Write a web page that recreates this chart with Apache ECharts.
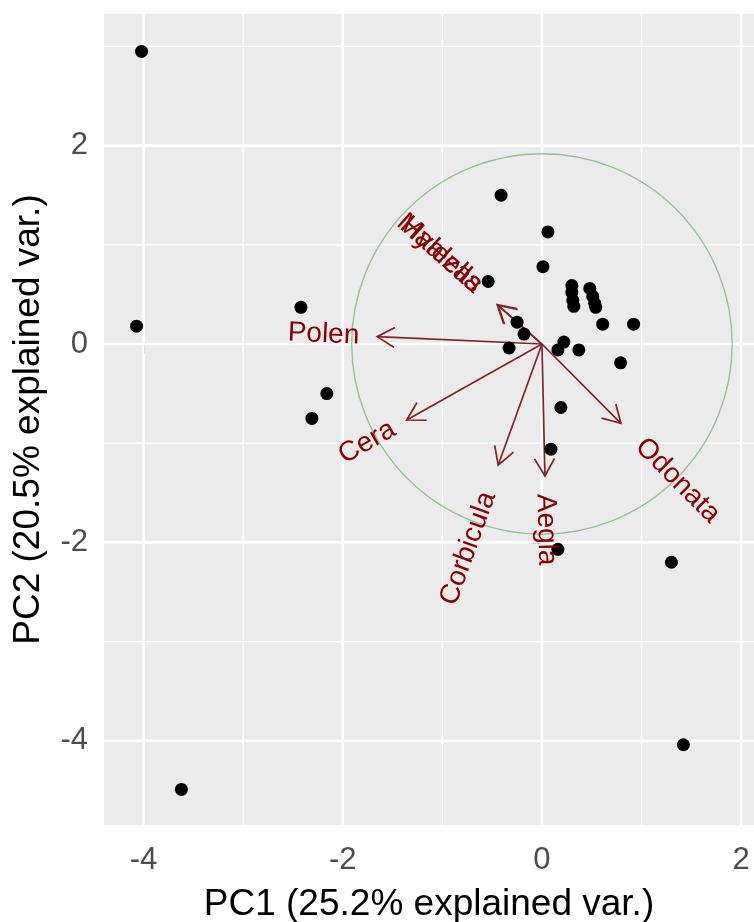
<!DOCTYPE html>
<html>
<head>
<meta charset="utf-8">
<script src="https://cdn.jsdelivr.net/npm/echarts@6/dist/echarts.min.js"></script>
<style>
  html, body { margin: 0; padding: 0; background: #ffffff; }
  #chart { width: 754px; height: 922px; }
</style>
</head>
<body>
<div id="chart"></div>
<script>
// Sample scores on the first two principal components
const pc1 = [-4.02, -4.07, -3.62, -2.42, -2.16, -2.31, -0.41, 0.06, 0.01, -0.54,
             -0.25, -0.18, -0.33, 0.16, 0.22, 0.37, 0.61, 0.92, 0.79,
             0.30, 0.30, 0.31, 0.32, 0.48, 0.51, 0.53, 0.54,
             0.19, 0.09, 0.16, 1.30, 1.42];
const pc2 = [2.95, 0.18, -4.49, 0.37, -0.50, -0.75, 1.50, 1.13, 0.78, 0.63,
             0.22, 0.10, -0.04, -0.06, 0.02, -0.06, 0.20, 0.20, -0.19,
             0.59, 0.52, 0.44, 0.38, 0.56, 0.48, 0.41, 0.37,
             -0.64, -1.06, -2.07, -2.20, -4.04];

// Variable loadings (arrow tips)
const varNames = ['Polen', 'Cera', 'Corbicula', 'Aegla', 'Odonata', 'Malezas', 'Hyalella'];
const varPC1 = [-1.654, -1.358, -0.439, 0.030, 0.793, -0.440, -0.450];
const varPC2 = [0.074, -0.766, -1.220, -1.330, -0.800, 0.390, 0.398];

// Axis ticks and grid
const xTicks = [-4, -2, 0, 2];
const yTicks = [-4, -2, 0, 2];
const xMinor = [-3, -1, 1];
const yMinor = [-3, -1, 1, 3];
const xRange = [-4.397, 2.129];
const yRange = [-4.849, 3.327];
const circleRadius = 1.91;

const xTitle = 'PC1 (25.2% explained var.)';
const yTitle = 'PC2 (20.5% explained var.)';

const FONT = '"Liberation Sans", Arial, sans-serif';
const LABEL_SIZE = 28;
const arrowColor = '#832424';
const labelColor = '#8B0000';

const measureCtx = document.createElement('canvas').getContext('2d');
function textWidth(s) {
  measureCtx.font = LABEL_SIZE + 'px ' + FONT;
  return measureCtx.measureText(s).width;
}

const gridLines = [];
xTicks.forEach(v => gridLines.push([v, 0, 1]));
xMinor.forEach(v => gridLines.push([v, 0, 0]));
yTicks.forEach(v => gridLines.push([v, 1, 1]));
yMinor.forEach(v => gridLines.push([v, 1, 0]));

const chart = echarts.init(document.getElementById('chart'), null, { renderer: 'canvas' });

const option = {
  backgroundColor: '#ffffff',
  animation: false,
  grid: {
    left: 104, top: 14, right: 0, bottom: 97,
    containLabel: false, outerBoundsMode: 'none',
    show: true, backgroundColor: '#EBEBEB', borderWidth: 0
  },
  xAxis: {
    type: 'value', min: xRange[0], max: xRange[1],
    axisLine: { show: false },
    splitLine: { show: false },
    axisTick: { show: true, customValues: xTicks, length: 10, lineStyle: { color: '#333333', width: 2 } },
    axisLabel: { customValues: xTicks, fontSize: 31, color: '#4D4D4D', fontFamily: FONT, margin: 20 },
    name: xTitle, nameLocation: 'middle', nameGap: 61,
    nameTextStyle: { fontSize: 37, color: '#000000', fontFamily: FONT }
  },
  yAxis: {
    type: 'value', min: yRange[0], max: yRange[1],
    axisLine: { show: false },
    splitLine: { show: false },
    axisTick: { show: true, customValues: yTicks, length: 10, lineStyle: { color: '#333333', width: 2 } },
    axisLabel: { customValues: yTicks, fontSize: 31, color: '#4D4D4D', fontFamily: FONT, margin: 16 },
    name: yTitle, nameLocation: 'middle', nameGap: 57,
    nameTextStyle: { fontSize: 37, color: '#000000', fontFamily: FONT }
  },
  series: [
    {
      // panel grid lines
      type: 'custom', z: 1, silent: true,
      data: gridLines,
      renderItem: function (params, api) {
        const cs = params.coordSys;
        const v = api.value(0), horiz = api.value(1) === 1, major = api.value(2) === 1;
        const lw = major ? 2.6 : 1.3;
        let shape;
        if (horiz) {
          const y = api.coord([0, v])[1];
          shape = { x1: cs.x, y1: y, x2: cs.x + cs.width, y2: y };
        } else {
          const x = api.coord([v, 0])[0];
          shape = { x1: x, y1: cs.y, x2: x, y2: cs.y + cs.height };
        }
        return { type: 'line', shape: shape, style: { stroke: '#ffffff', lineWidth: lw } };
      }
    },
    {
      // correlation circle
      type: 'custom', z: 2, silent: true,
      data: [[0, 0, circleRadius]],
      renderItem: function (params, api) {
        const c = api.coord([api.value(0), api.value(1)]);
        const r = api.size([api.value(2), 0])[0];
        return { type: 'circle', shape: { cx: c[0], cy: c[1], r: r },
                 style: { stroke: 'rgba(105,170,105,0.65)', lineWidth: 1.4, fill: null } };
      }
    },
    {
      // loading arrows
      type: 'custom', z: 3, silent: true,
      data: varNames.map((n, i) => [varPC1[i], varPC2[i]]),
      renderItem: function (params, api) {
        const o = api.coord([0, 0]);
        const p = api.coord([api.value(0), api.value(1)]);
        const dx = p[0] - o[0], dy = p[1] - o[1];
        const len = Math.hypot(dx, dy);
        const bx = -dx / len, by = -dy / len;
        const hl = 20, a = Math.PI / 6, ca = Math.cos(a), sa = Math.sin(a);
        const h1 = [p[0] + hl * (bx * ca - by * sa), p[1] + hl * (bx * sa + by * ca)];
        const h2 = [p[0] + hl * (bx * ca + by * sa), p[1] + hl * (-bx * sa + by * ca)];
        return {
          type: 'group',
          children: [
            { type: 'line', shape: { x1: o[0], y1: o[1], x2: p[0], y2: p[1] },
              style: { stroke: arrowColor, lineWidth: 1.7 } },
            { type: 'polyline', shape: { points: [h1, p, h2] },
              style: { stroke: arrowColor, lineWidth: 1.7, fill: null } }
          ]
        };
      }
    },
    {
      // sample points
      type: 'scatter', z: 4, silent: true,
      symbolSize: 13,
      itemStyle: { color: '#000000', opacity: 1 },
      data: pc1.map((x, i) => [x, pc2[i]])
    },
    {
      // variable names along their arrows
      type: 'custom', z: 5, silent: true,
      data: varNames.map((n, i) => [varPC1[i], varPC2[i]]),
      renderItem: function (params, api) {
        const name = varNames[params.dataIndex];
        const xv = api.value(0), yv = api.value(1);
        const p = api.coord([xv, yv]);
        const ang = Math.atan(yv / xv);
        const w = textWidth(name);
        const pos = xv > 0;
        return {
          type: 'text', x: p[0], y: p[1], rotation: ang,
          style: {
            text: name, x: pos ? 0.25 * w : -0.25 * w, y: 0,
            align: pos ? 'left' : 'right', verticalAlign: 'middle',
            fill: labelColor, font: LABEL_SIZE + 'px ' + FONT
          }
        };
      }
    }
  ]
};

chart.setOption(option);
</script>
</body>
</html>
